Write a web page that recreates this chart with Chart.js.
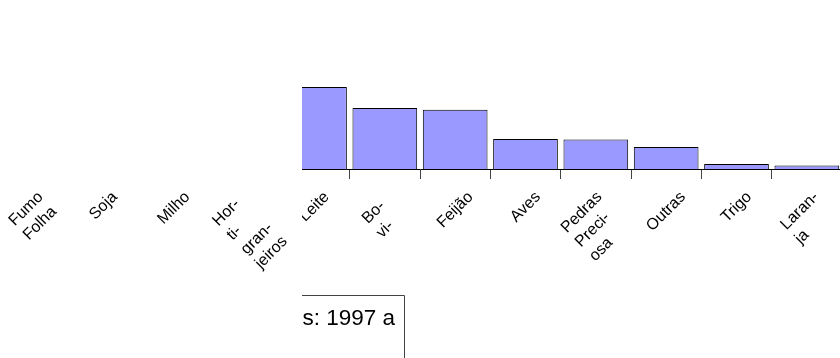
<!DOCTYPE html>
<html>
<head>
<meta charset="utf-8">
<script src="https://cdn.jsdelivr.net/npm/chart.js@4.4.1/dist/chart.umd.min.js"></script>
<style>
  html, body { margin: 0; padding: 0; background: #fff; overflow: hidden; width: 840px; height: 358px; }
  #wrap { position: absolute; left: -2px; top: 0; width: 844px; height: 358px; }
</style>
</head>
<body>
<div id="wrap"><canvas id="c"></canvas></div>
<script>
// Product categories (hyphenated line breaks as printed on the axis)
const categories = [
  ["Fumo", "Folha"], ["Soja"], ["Milho"], ["Hor-", "ti-", "gran-", "jeiros"],
  ["Leite"], ["Bo-", "vi-"], ["Feijão"], ["Aves"],
  ["Pedras", "Preci-", "osa"], ["Outras"], ["Trigo"], ["Laran-", "ja"]
];
// Bar values (first four lie behind the blank panel)
const shares = [null, null, null, null, 20.5, 15.25, 14.8, 7.5, 7.4, 5.5, 1.25, 0.9];
const titleText = "s: 1997 a";

// layout constants
const X_OFF = 2;            // canvas x = page x + X_OFF
const LABEL_FONT = '16px "Liberation Sans", Arial, sans-serif';
const LINE_H = 20;
const LABEL_TOP = 187.5;
const labelShift = { 3: [6, 2], 5: [-4, 9] };

const overlay = {
  id: 'overlay',
  afterDraw(chart) {
    const ctx = chart.ctx;
    const xs = chart.scales.x;
    const px = x => x + X_OFF;

    // blank panel over the left part of the plot
    ctx.save();
    ctx.fillStyle = '#fff';
    ctx.fillRect(0, 0, px(302), 182);
    ctx.restore();

    // rotated category labels
    ctx.save();
    ctx.beginPath();
    ctx.rect(0, 0, chart.width, chart.height);
    ctx.rect(px(280), 0, 22, 228);
    ctx.clip('evenodd');
    ctx.font = LABEL_FONT;
    ctx.fillStyle = '#000';
    ctx.textAlign = 'center';
    ctx.textBaseline = 'middle';
    const c = Math.SQRT1_2;
    categories.forEach((lines, i) => {
      const cx = xs.getPixelForValue(i);
      const widths = lines.map(t => ctx.measureText(t).width);
      const W = Math.max(...widths);
      const rows = lines.length;
      const side = (W + rows * LINE_H) * c;
      const cy = LABEL_TOP + side / 2;
      const sh = labelShift[i] || [0, 0];
      lines.forEach((t, j) => {
        const u = -W / 2 + widths[j] / 2;
        const v = (j - (rows - 1) / 2) * LINE_H;
        const x = cx + (u + v) * c + sh[0];
        const y = cy + (v - u) * c + sh[1];
        ctx.save();
        ctx.translate(x, y);
        ctx.rotate(-Math.PI / 4);
        ctx.fillText(t, 0, 0);
        ctx.restore();
      });
    });
    ctx.restore();

    // title box
    ctx.save();
    ctx.strokeStyle = '#444';
    ctx.lineWidth = 1;
    ctx.beginPath();
    ctx.moveTo(px(302), 295.5);
    ctx.lineTo(px(404.5), 295.5);
    ctx.lineTo(px(404.5), 358);
    ctx.stroke();
    ctx.font = '22.5px "Liberation Sans", Arial, sans-serif';
    ctx.fillStyle = '#000';
    ctx.textAlign = 'left';
    ctx.textBaseline = 'alphabetic';
    ctx.fillText(titleText, px(302.5), 325);
    ctx.restore();
  }
};

new Chart(document.getElementById('c'), {
  type: 'bar',
  data: {
    labels: categories,
    datasets: [{
      data: shares,
      backgroundColor: '#9999ff',
      borderColor: '#000',
      borderWidth: 1,
      barPercentage: 0.92,
      categoryPercentage: 1
    }]
  },
  options: {
    responsive: true,
    maintainAspectRatio: false,
    animation: false,
    layout: { padding: { top: 9, left: 0, right: 0, bottom: 0 } },
    plugins: { legend: { display: false }, tooltip: { enabled: false } },
    scales: {
      x: {
        offset: true,
        ticks: { display: false },
        grid: {
          offset: true,
          drawOnChartArea: false,
          drawTicks: true,
          tickLength: 10,
          color: '#444',
          lineWidth: 1
        },
        border: { display: true, color: '#000', width: 1 },
        afterFit(scale) { scale.height = 189; }
      },
      y: { display: false, min: 0, max: 40 }
    }
  },
  plugins: [overlay]
});
</script>
</body>
</html>
